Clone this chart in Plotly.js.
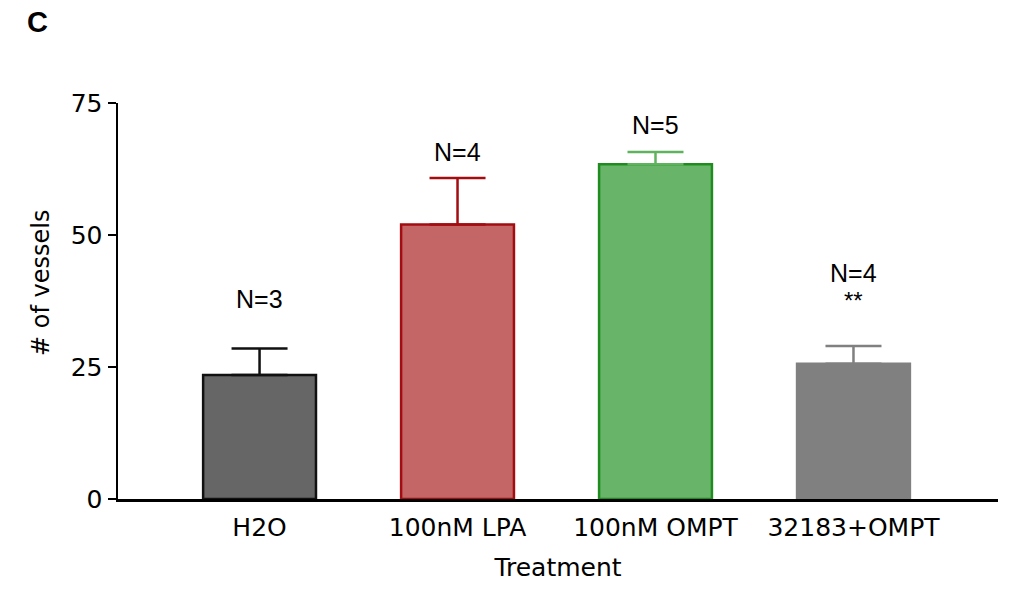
<!DOCTYPE html>
<html>
<head>
<meta charset="utf-8">
<script src="https://cdn.plot.ly/plotly-3.0.1.min.js"></script>
<style>html,body{margin:0;padding:0;background:#fff;}#chart{width:1025px;height:600px;}</style>
</head>
<body>
<div id="chart"></div>
<script>
const categories = ["H2O", "100nM LPA", "100nM OMPT", "32183+OMPT"];
const means = [23.5, 52.0, 63.4, 25.6];
const errors = [5.0, 8.8, 2.3, 3.4];
const nLabels = ["N=3", "N=4", "N=5", "N=4"];
const sigLabels = ["", "", "", "**"];
const yTicks = [0, 25, 50, 75];

const fills = ["#666666", "#c46666", "#68b468", "#808080"];
const borders = ["#111111", "#a30d12", "#1e8c1e", "#808080"];
const errColors = ["#111111", "#a30d12", "#5fb35f", "#808080"];

const traces = categories.map((c, i) => ({
  type: "bar",
  x: [c],
  y: [means[i]],
  width: 0.57,
  marker: {color: fills[i], line: {color: borders[i], width: 2.5}},
  error_y: {type: "data", array: [errors[i]], arrayminus: [0], symmetric: false,
            color: errColors[i], thickness: 2.5, width: 28},
  showlegend: false,
  hoverinfo: "skip"
}));

const nShift = [34, 10, 11, 57];
const annotations = [];
categories.forEach((c, i) => {
  annotations.push({x: c, y: means[i] + errors[i], xref: "x", yref: "y", text: nLabels[i],
    showarrow: false, yanchor: "bottom", yshift: nShift[i],
    font: {family: "Liberation Sans, Arial, sans-serif", size: 25, color: "#000"}});
  if (sigLabels[i]) {
    annotations.push({x: c, y: means[i] + errors[i], xref: "x", yref: "y", text: sigLabels[i],
      showarrow: false, yanchor: "bottom", yshift: 30,
      font: {family: "Liberation Sans, Arial, sans-serif", size: 24, color: "#000"}});
  }
});
// panel letter
annotations.push({x: (25 - 118) / 880, y: 1 + (103 - 22) / 396, xref: "paper", yref: "paper",
  xanchor: "left", yanchor: "middle", text: "<b>C</b>", showarrow: false,
  font: {family: "Liberation Sans, Arial, sans-serif", size: 29, color: "#000"}});
// y-axis title
annotations.push({x: (41 - 118) / 880, y: (499 - 283) / 396, xref: "paper", yref: "paper",
  xanchor: "center", yanchor: "middle", textangle: -90, text: "# of vessels", showarrow: false,
  font: {family: "DejaVu Sans, sans-serif", size: 24, color: "#000"}});

const layout = {
  width: 1025, height: 600,
  margin: {l: 118, r: 27, t: 103, b: 101},
  paper_bgcolor: "#fff", plot_bgcolor: "#fff",
  barmode: "overlay",
  font: {family: "DejaVu Sans, sans-serif", size: 25, color: "#000"},
  xaxis: {
    type: "category", categoryorder: "array", categoryarray: categories,
    range: [-0.715, 3.73],
    showline: true, linecolor: "#000", linewidth: 2.5,
    ticks: "", showgrid: false, zeroline: false,
    ticklabelstandoff: 4,
    tickfont: {family: "DejaVu Sans, sans-serif", size: 25},
    title: {text: "Treatment", font: {family: "DejaVu Sans, sans-serif", size: 25}, standoff: 18}
  },
  yaxis: {
    range: [0, 75], tickvals: yTicks, ticktext: yTicks.map(String),
    showline: true, linecolor: "#000", linewidth: 2.5,
    ticks: "outside", ticklen: 8, tickwidth: 2.5, tickcolor: "#000",
    showgrid: false, zeroline: false,
    tickfont: {family: "DejaVu Sans, sans-serif", size: 25}
  },
  annotations: annotations
};

Plotly.newPlot("chart", traces, layout, {displayModeBar: false, staticPlot: true});
</script>
</body>
</html>
